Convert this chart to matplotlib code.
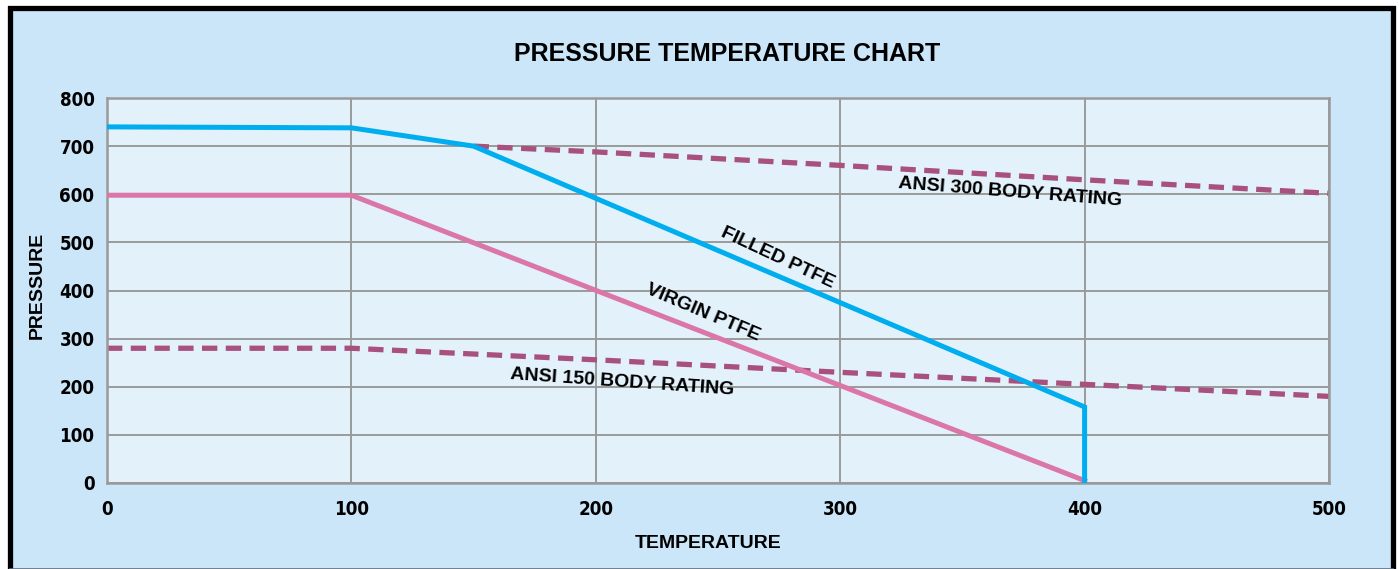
import matplotlib.pyplot as plt
from matplotlib.patches import Rectangle

# data
filled_t = [0, 100, 150, 400, 400]
filled_p = [740, 738, 700, 158, 5]

virgin_t = [0, 100, 400]
virgin_p = [598, 598, 5]

ansi300_t = [150, 200, 300, 400, 500]
ansi300_p = [700, 688, 660, 630, 602]

ansi150_t = [0, 100, 200, 300, 400, 500]
ansi150_p = [280, 280, 256, 230, 205, 180]

xticks = [0, 100, 200, 300, 400, 500]
yticks = [0, 100, 200, 300, 400, 500, 600, 700, 800]

W, H = 1399, 569
fig = plt.figure(figsize=(W / 100, H / 100), dpi=100, facecolor='white')

# light blue panel with black frame
fig.patches.append(Rectangle((9.5 / W, -0.02), (1393 - 9.5) / W, (H - 7.5) / H + 0.02,
                             transform=fig.transFigure, facecolor='#cbe6f8',
                             edgecolor='black', linewidth=3.8, zorder=-10))
fig.add_artist(plt.Line2D([9.5 / W, 1393 / W], [0.5 / H, 0.5 / H], color='#607080',
                          linewidth=1.2, zorder=-5))

ax = fig.add_axes([107 / W, 86 / H, (1329 - 107) / W, (483 - 98) / H])
ax.set_facecolor('#e3f1fb')

ax.plot(ansi150_t, ansi150_p, color='#a8507e', linewidth=3.8, dashes=(2.9, 1.6), zorder=2)
ax.plot(ansi300_t, ansi300_p, color='#a8507e', linewidth=3.8, dashes=(2.9, 1.6), zorder=2)
ax.plot(virgin_t, virgin_p, color='#db76a8', linewidth=3.6, zorder=3, solid_joinstyle='miter')
ax.plot(filled_t, filled_p, color='#00aeef', linewidth=3.6, zorder=4, solid_joinstyle='miter')

ax.set_xlim(0, 500)
ax.set_ylim(0, 800)
ax.set_xticks(xticks)
ax.set_yticks(yticks)
ax.grid(True, color='#9a9a9a', linewidth=1.4)
ax.set_axisbelow(True)
for s in ax.spines.values():
    s.set_color('#9a9a9a')
    s.set_linewidth(1.8)
ax.tick_params(length=0)

for lab in ax.get_xticklabels() + ax.get_yticklabels():
    lab.set_fontfamily(['DejaVu Sans'])
    lab.set_fontstretch('condensed')
    lab.set_fontweight('bold')
    lab.set_fontsize(13.5)
ax.tick_params(axis='x', pad=12)
ax.tick_params(axis='y', pad=9)

lab_font = dict(family=['Liberation Sans', 'DejaVu Sans'], weight='bold', size=14)
fig.text(708 / W, 1 - 543 / H, 'TEMPERATURE', ha='center', va='center', **lab_font)
fig.text(37 / W, 1 - 285 / H, 'PRESSURE', ha='center', va='center', rotation=90, **lab_font)
fig.text(727 / W, 1 - 54 / H, 'PRESSURE TEMPERATURE CHART', ha='center', va='center',
         family=['Liberation Sans', 'DejaVu Sans'], weight='bold', size=18)

ann = dict(family=['Liberation Sans', 'DejaVu Sans'], weight='bold', size=14,
           ha='center', va='center', rotation_mode='anchor')
ax.text(274.6, 467, 'FILLED PTFE', rotation=-25, **ann)
ax.text(243.9, 353, 'VIRGIN PTFE', rotation=-23, **ann)
ax.text(369.5, 603, 'ANSI 300 BODY RATING', rotation=-4.5, **ann)
ax.text(210.7, 210, 'ANSI 150 BODY RATING', rotation=-4, **ann)

fig.savefig('out.png', dpi=100, facecolor=fig.get_facecolor())
